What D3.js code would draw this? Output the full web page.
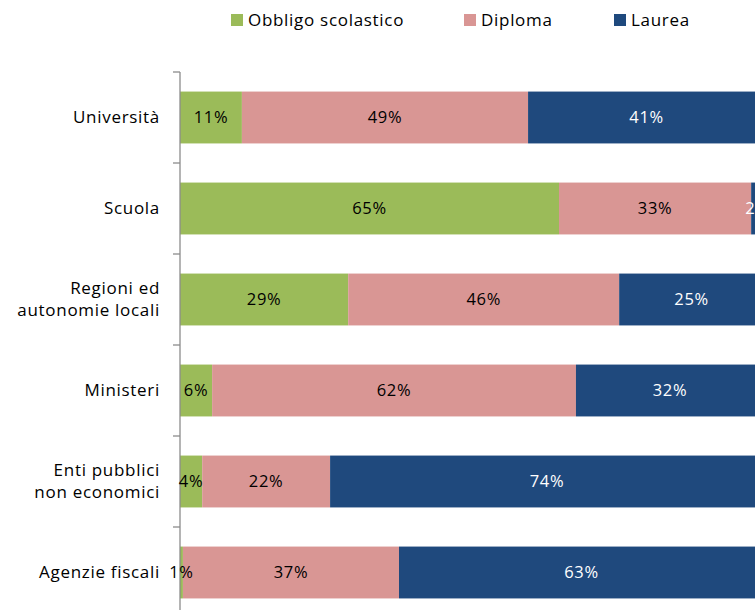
<!DOCTYPE html>
<html>
<head>
<meta charset="utf-8">
<script src="https://cdn.jsdelivr.net/npm/d3@7"></script>
<style>
  body { margin: 0; background: #fff; }
  text { font-family: 'Open Sans', sans-serif; letter-spacing: 0.7px; }
</style>
</head>
<body>
<div id="chart"></div>
<script>
// data
const categories = ["Università", "Scuola", "Regioni ed\nautonomie locali", "Ministeri", "Enti pubblici\nnon economici", "Agenzie fiscali"];
const seriesNames = ["Obbligo scolastico", "Diploma", "Laurea"];
const obbligo = [10.6, 64.9, 28.8, 5.5, 3.8, 0.5];
const diploma = [49.0, 32.9, 46.4, 62.3, 21.9, 37.0];
const laurea = [40.6, 2.2, 24.8, 32.2, 74.3, 62.5];
const colors = ["#9BBB59", "#D99694", "#1F497D"];
const labelColors = ["#000", "#000", "#fff"];

const width = 755, height = 610;
const svg = d3.select("#chart").append("svg")
  .attr("width", width).attr("height", height);

const x = d3.scaleLinear().domain([0, 100]).range([180, 764]);
const y = d3.scaleBand().domain(d3.range(categories.length))
  .range([72, 618]).paddingInner(0.43).paddingOuter(0.215);

const rows = categories.map((c, i) => [obbligo[i], diploma[i], laurea[i]]);

// stacked segments
const segs = [];
rows.forEach((vals, i) => {
  let start = 0;
  vals.forEach((v, s) => {
    segs.push({ i, s, v, x0: start, x1: start + v });
    start += v;
  });
});

svg.append("g").selectAll("rect").data(segs).join("rect")
  .attr("x", d => x(d.x0)).attr("y", d => y(d.i))
  .attr("width", d => x(d.x1) - x(d.x0))
  .attr("height", y.bandwidth())
  .attr("fill", d => colors[d.s]);

// axis with category ticks at band boundaries
const axis = svg.append("g").attr("stroke", "#8c8c8c").attr("stroke-width", 1.3);
axis.append("line").attr("x1", 180).attr("x2", 180).attr("y1", 72).attr("y2", 618);
d3.range(categories.length + 1).forEach(k => {
  const yy = 72 + k * (618 - 72) / categories.length;
  axis.append("line").attr("x1", 173).attr("x2", 180).attr("y1", yy).attr("y2", yy);
});

// value labels (after bars so small ones stay visible)
svg.append("g").selectAll("text").data(segs).join("text")
  .attr("x", d => (x(d.x0) + x(d.x1)) / 2)
  .attr("y", d => y(d.i) + y.bandwidth() / 2)
  .attr("dy", "0.35em")
  .attr("text-anchor", "middle")
  .attr("font-size", 16.5)
  .attr("fill", d => labelColors[d.s])
  .text(d => Math.round(d.v) + "%");

// category labels
categories.forEach((c, i) => {
  const lines = c.split("\n");
  const t = svg.append("text")
    .attr("text-anchor", "end")
    .attr("font-size", 17)
    .attr("fill", "#000");
  const cy = y(i) + y.bandwidth() / 2;
  lines.forEach((ln, j) => {
    t.append("tspan").attr("x", 160)
      .attr("y", cy + (j - (lines.length - 1) / 2) * 22)
      .attr("dy", "0.35em").text(ln);
  });
});

// legend
const legendX = [231, 464, 614];
seriesNames.forEach((n, s) => {
  svg.append("rect").attr("x", legendX[s]).attr("y", 14)
    .attr("width", 12).attr("height", 12).attr("fill", colors[s]);
  svg.append("text").attr("x", legendX[s] + 17).attr("y", 20)
    .attr("dy", "0.35em").attr("font-size", 17).attr("fill", "#000").text(n);
});
</script>
</body>
</html>
